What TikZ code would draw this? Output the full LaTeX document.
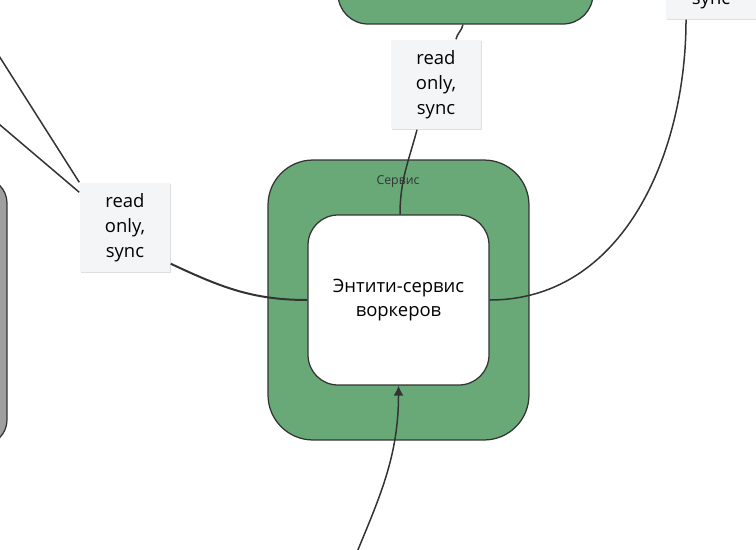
\documentclass[tikz,border=0pt]{standalone}
\usepackage{fontspec}
\setmainfont{Open Sans}
\usetikzlibrary{arrows.meta, positioning, shadows}
\definecolor{srvgreen}{HTML}{69A978}
\definecolor{lblfill}{HTML}{F4F5F7}
\definecolor{edgecol}{HTML}{333333}

\begin{document}
\begin{tikzpicture}[>={Latex[length=2mm, width=2mm]}, x=0.02cm, y=0.02cm, line width=0.3mm,
  srvbox/.style={draw=edgecol, line width=0.25mm, fill=srvgreen, rectangle},
  entbox/.style={draw=edgecol, line width=0.25mm, fill=white, rectangle, rounded corners=0.6cm, minimum width=3.62cm, minimum height=3.4cm, align=center, font=\fontsize{10.5}{13.6}\selectfont},
  lbl/.style={fill=lblfill, rectangle, minimum width=1.8cm, minimum height=1.78cm, align=center, inner sep=0pt, font=\fontsize{10.5}{14.2}\selectfont, drop shadow={shadow xshift=0.4pt, shadow yshift=-0.6pt, opacity=0.25}},
  conn/.style={draw=edgecol}]

\useasboundingbox (0,0) rectangle (756,549);
\clip (0,0) rectangle (756,549);

% Service blocks
\node (srv) [srvbox, rounded corners=0.9cm, minimum width=5.22cm, minimum height=5.6cm] at (398.5,249) {};
\node (ent) [entbox] at (srv.center) {Энтити-сервис\\воркеров};
\node (srvname) [font=\fontsize{7}{8}\selectfont, text=edgecol] at (398,367) {Сервис};
\node (topsrv) [srvbox, rounded corners=0.6cm, minimum width=5.1cm, minimum height=2cm] at (465.5,575) {};
\node (other) [draw=edgecol, line width=0.25mm, fill=gray!75, rectangle, rounded corners=0.5cm, minimum width=4cm, minimum height=5.34cm] at (-93,237.5) {};

% Labels
\node (lleft) [lbl] at (125,321.5) {read\\only,\\sync};
\node (ltop) [lbl] at (436,464.5) {read\\only,\\sync};
\node (lright) [lbl] at (711,574.5) {read\\only,\\sync};

% Connectors
\coordinate (in1) at (-60,586);
\coordinate (in2) at (-60,475);
\coordinate (inb) at (348,-25);
\draw[conn] (in1) -- (lleft.north west);
\draw[conn] (in2) -- ([yshift=-0.2cm]lleft.north west);
\draw[conn, line width=0.4mm] ([yshift=0.18cm]lleft.south east) to[out=-25, in=180] (ent.west);
\draw[conn] ([xshift=-0.05cm]topsrv.south) to[out=-100, in=80] ([xshift=0.4cm]ltop.north);
\draw[conn] ([xshift=-0.38cm]ltop.south) to[out=-105, in=90] ([xshift=0.03cm]ent.north);
\draw[conn] (ent.east) to[out=0, in=-90] ([xshift=-0.5cm]lright.south);
\draw[conn, ->] (inb) to[out=68, in=-90] (ent.south);
\end{tikzpicture}
\end{document}
